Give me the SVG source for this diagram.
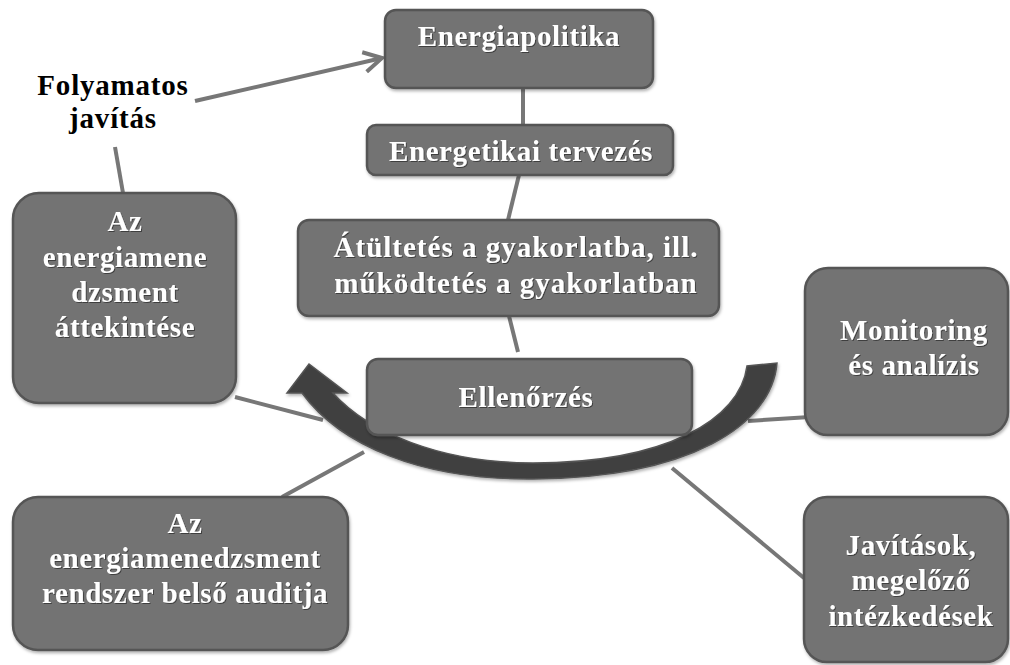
<svg xmlns="http://www.w3.org/2000/svg" width="1010" height="665" viewBox="0 0 1010 665">
  <defs>
    <filter id="sh" x="-10%" y="-10%" width="130%" height="140%">
      <feDropShadow dx="1" dy="2" stdDeviation="1.5" flood-color="#000" flood-opacity="0.3"/>
    </filter>
    <filter id="tsh" x="-5%" y="-20%" width="110%" height="150%">
      <feDropShadow dx="1" dy="1" stdDeviation="0.6" flood-color="#000" flood-opacity="0.45"/>
    </filter>
    <marker id="open" viewBox="0 0 12 12" refX="10" refY="6" markerWidth="6" markerHeight="6" orient="auto" markerUnits="strokeWidth">
      <path d="M1 1 L10 6 L1 11" fill="none" stroke="#777" stroke-width="2"/>
    </marker>
    <style>
      .box { fill: #737373; stroke: #555; stroke-width: 2.5; filter: url(#sh); }
      .t { font-family: "Liberation Serif", "Times New Roman", serif; font-weight: bold; font-size: 29px; letter-spacing: 0.6px; fill: #fff; text-anchor: middle; filter: url(#tsh); }
      .wide { letter-spacing: 1px; }
      .tb { font-family: "Liberation Serif", "Times New Roman", serif; font-weight: bold; font-size: 29px; letter-spacing: 0.8px; fill: #000; text-anchor: middle; }
      .ln { stroke: #777; stroke-width: 4; fill: none; stroke-linecap: butt; }
    </style>
  </defs>
  <rect width="1010" height="665" fill="#fff"/>

  <g id="connectors">
    <line class="ln" x1="523" y1="88" x2="523" y2="125"/>
    <line class="ln" x1="519" y1="175" x2="508" y2="220"/>
    <line class="ln" x1="509" y1="316" x2="518" y2="352"/>
    <line class="ln" x1="195" y1="101" x2="382" y2="58" marker-end="url(#open)"/>
    <line class="ln" x1="115" y1="147" x2="123" y2="193"/>
    <line class="ln" x1="235" y1="397" x2="323" y2="420"/>
    <line class="ln" x1="282" y1="497" x2="364" y2="452"/>
    <line class="ln" x1="748" y1="421" x2="810" y2="417"/>
    <line class="ln" x1="672" y1="468" x2="804" y2="578"/>
  </g>

  <g id="cycle-arrow">
    <path d="M 777 363 C 772 425 690 478 533 479 C 420 480 340 445 302 393 L 287 393 L 309 364 L 347 393 L 333 393 C 368 432 440 463 533 463 C 665 463 740 420 747 366 Z" fill="#414141" stroke="#555" stroke-width="1.5" filter="url(#sh)"/>
  </g>

  <g id="n-energiapolitika">
    <rect class="box" x="385" y="10" width="268" height="78" rx="11"/>
    <text class="t" x="519" y="46">Energiapolitika</text>
  </g>

  <g id="n-tervezes">
    <rect class="box" x="367" y="125" width="306" height="50" rx="9"/>
    <text class="t" x="521" y="161">Energetikai tervezés</text>
  </g>

  <g id="n-atultetes">
    <rect class="box" x="298" y="220" width="421" height="96" rx="11"/>
    <text class="t wide" x="516" y="257">Átültetés a gyakorlatba, ill.</text>
    <text class="t wide" x="516" y="293">működtetés a gyakorlatban</text>
  </g>

  <g id="n-ellenorzes">
    <rect class="box" x="367" y="359" width="325" height="76" rx="11"/>
    <text class="t" x="526" y="407">Ellenőrzés</text>
  </g>

  <g id="n-folyamatos">
    <text class="tb" x="113" y="95">Folyamatos</text>
    <text class="tb" x="113" y="128">javítás</text>
  </g>

  <g id="n-attekintes">
    <rect class="box" x="13" y="193" width="223" height="210" rx="26"/>
    <text class="t" x="125" y="231">Az</text>
    <text class="t" x="125" y="267">energiamene</text>
    <text class="t" x="125" y="302">dzsment</text>
    <text class="t" x="125" y="337">áttekintése</text>
  </g>

  <g id="n-monitoring">
    <rect class="box" x="805" y="268" width="203" height="167" rx="23"/>
    <text class="t" x="914" y="340">Monitoring</text>
    <text class="t" x="914" y="375">és analízis</text>
  </g>

  <g id="n-javitasok">
    <rect class="box" x="804" y="497" width="204" height="165" rx="23"/>
    <text class="t" x="911" y="555">Javítások,</text>
    <text class="t" x="911" y="590">megelőző</text>
    <text class="t" x="911" y="626">intézkedések</text>
  </g>

  <g id="n-audit">
    <rect class="box" x="13" y="497" width="335" height="153" rx="25"/>
    <text class="t" x="185" y="533">Az</text>
    <text class="t" x="185" y="568">energiamenedzsment</text>
    <text class="t" x="185" y="603">rendszer belső auditja</text>
  </g>
</svg>
